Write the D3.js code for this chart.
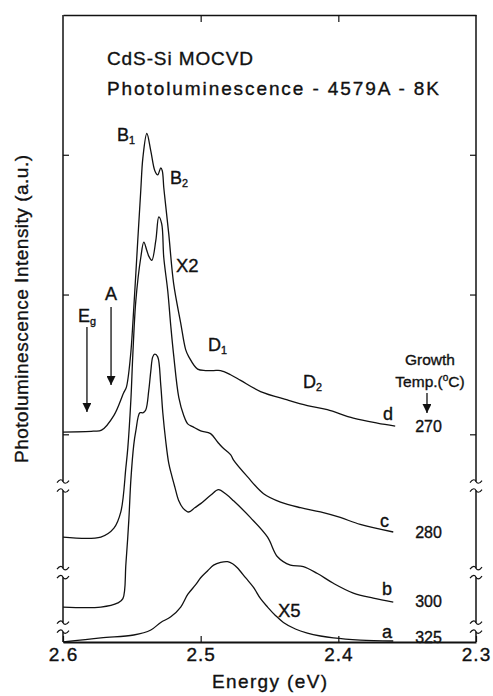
<!DOCTYPE html>
<html>
<head>
<meta charset="utf-8">
<script src="https://cdn.jsdelivr.net/npm/d3@7"></script>
<style>
  body { margin: 0; background: #fff; }
  text { font-family: "Liberation Sans", Arial, Helvetica, sans-serif; fill: #111; stroke: #111; stroke-width: 0.35px; }
</style>
</head>
<body>
<script>
// spectra: energy (eV) and intensity above each curve's own baseline (a.u.)
var energyD = [2.600, 2.578, 2.572, 2.563, 2.556, 2.554, 2.551, 2.549, 2.5457, 2.5435, 2.5420, 2.5391, 2.5362, 2.5333, 2.5312, 2.5290, 2.5279, 2.5268, 2.5254, 2.5232, 2.5196, 2.5145, 2.5109, 2.5087, 2.5022, 2.4964, 2.4906, 2.4855, 2.4783, 2.4710, 2.4565, 2.4370, 2.4225, 2.4080, 2.3891, 2.3717, 2.3587];
var curveD  = [0, 0.007, 0.014, 0.12, 0.28, 0.32, 0.54, 0.82, 1.37, 1.73, 1.96, 2.136, 2.01, 1.87, 1.84, 1.89, 1.87, 1.75, 1.62, 1.42, 1.06, 0.78, 0.59, 0.54, 0.45, 0.44, 0.44, 0.44, 0.41, 0.37, 0.29, 0.23, 0.19, 0.16, 0.10, 0.064, 0.043];

var energyC = [2.600, 2.5725, 2.5630, 2.5580, 2.5543, 2.5529, 2.5507, 2.5493, 2.5471, 2.5435, 2.5413, 2.5391, 2.5377, 2.5355, 2.5326, 2.5304, 2.5283, 2.5268, 2.5239, 2.5217, 2.5196, 2.5159, 2.5123, 2.5094, 2.5058, 2.5000, 2.4928, 2.4877, 2.4841, 2.4783, 2.4761, 2.4659, 2.4543, 2.4420, 2.4275, 2.4130, 2.3986, 2.3841, 2.3601];
var curveC  = [0, 0, 0.064, 0.18, 0.50, 0.64, 0.98, 1.30, 1.69, 2.00, 2.11, 2.05, 2.01, 1.98, 2.12, 2.29, 2.24, 2.00, 1.76, 1.51, 1.30, 1.00, 0.87, 0.81, 0.79, 0.76, 0.74, 0.68, 0.64, 0.59, 0.55, 0.43, 0.31, 0.25, 0.21, 0.18, 0.14, 0.09, 0.036];

var energyB = [2.600, 2.5725, 2.5601, 2.5565, 2.5543, 2.5522, 2.5507, 2.5486, 2.5471, 2.5442, 2.5420, 2.5399, 2.5377, 2.5362, 2.5348, 2.5333, 2.5312, 2.5290, 2.5275, 2.5254, 2.5232, 2.5210, 2.5188, 2.5159, 2.5130, 2.5087, 2.5043, 2.5000, 2.4928, 2.4870, 2.4819, 2.4761, 2.4638, 2.4514, 2.4442, 2.4348, 2.4254, 2.4152, 2.4036, 2.3891, 2.3746, 2.3601];
var curveB  = [0, 0, 0.03, 0.06, 0.31, 0.62, 0.91, 1.16, 1.26, 1.39, 1.39, 1.41, 1.55, 1.69, 1.79, 1.81, 1.79, 1.59, 1.39, 1.19, 1.03, 0.94, 0.86, 0.76, 0.71, 0.68, 0.71, 0.74, 0.80, 0.84, 0.81, 0.76, 0.64, 0.50, 0.36, 0.30, 0.29, 0.24, 0.17, 0.10, 0.064, 0.036];

var energyA = [2.600, 2.5725, 2.5486, 2.5362, 2.5290, 2.5217, 2.5145, 2.5094, 2.5036, 2.5000, 2.4949, 2.4906, 2.4855, 2.4804, 2.4768, 2.4732, 2.4674, 2.4616, 2.4565, 2.4514, 2.4457, 2.4399, 2.4312, 2.4225, 2.4130, 2.4036, 2.3841, 2.3601];
var curveA  = [0, 0.03, 0.05, 0.086, 0.14, 0.18, 0.25, 0.34, 0.41, 0.46, 0.51, 0.55, 0.57, 0.575, 0.56, 0.53, 0.46, 0.39, 0.31, 0.25, 0.19, 0.14, 0.093, 0.064, 0.043, 0.029, 0.014, 0.007];

var curveNames = ["d", "c", "b", "a"];
var growthTemps = ["270", "280", "300", "325"];
var baselines = [0.016, -0.735, -1.236, -1.486];   // vertical offset of each trace (a.u.)
var axisBreaks = [-0.37, -0.99, -1.38];

var xTicks = [2.6, 2.5, 2.4, 2.3];
var yTicks = [0, 1, 2];

var series = [
  {name: curveNames[0], temp: growthTemps[0], base: baselines[0], e: energyD, v: curveD},
  {name: curveNames[1], temp: growthTemps[1], base: baselines[1], e: energyC, v: curveC},
  {name: curveNames[2], temp: growthTemps[2], base: baselines[2], e: energyB, v: curveB},
  {name: curveNames[3], temp: growthTemps[3], base: baselines[3], e: energyA, v: curveA}
];

var W = 493, H = 696;
var margin = {left: 63, right: 476, top: 15, bottom: 642};

var svg = d3.select("body").append("svg")
    .attr("width", W)
    .attr("height", H);

var defs = svg.append("defs");
defs.append("marker")
    .attr("id", "head")
    .attr("viewBox", "0 0 10 10")
    .attr("refX", 10).attr("refY", 5)
    .attr("markerWidth", 9).attr("markerHeight", 9)
    .attr("markerUnits", "userSpaceOnUse")
    .attr("orient", "auto")
  .append("path")
    .attr("d", "M0,0 L10,5 L0,10 Z")
    .attr("fill", "#111");

var x = d3.scaleLinear().domain([2.6, 2.3]).range([margin.left, margin.right]);
var y = d3.scaleLinear().domain([-1.486, 3.0]).range([margin.bottom, margin.top]);

// bottom axis with labels, inward ticks
var xAxis = svg.append("g")
    .attr("transform", "translate(0," + margin.bottom + ")")
    .call(d3.axisBottom(x).tickValues(xTicks).tickSizeInner(-6).tickSizeOuter(0).tickPadding(6)
      .tickFormat(d3.format(".1f")));
xAxis.select(".domain").attr("stroke", "#111").attr("stroke-width", 1.8);
xAxis.selectAll(".tick line").attr("stroke", "#111").attr("stroke-width", 1.2);
xAxis.selectAll(".tick text")
    .attr("font-size", 19)
    .attr("font-family", "Liberation Sans, Arial, sans-serif")
    .attr("letter-spacing", 1)
    .attr("fill", "#111");

// top axis, ticks only
var xTop = svg.append("g")
    .attr("transform", "translate(0," + margin.top + ")")
    .call(d3.axisTop(x).tickValues(xTicks.slice(1, 3)).tickSizeInner(-7).tickSizeOuter(0).tickFormat(""));
xTop.select(".domain").attr("stroke", "#111").attr("stroke-width", 1.5);
xTop.selectAll(".tick line").attr("stroke", "#111").attr("stroke-width", 1.2);

// left and right axes: ticks only, domain drawn by hand so it can break
[[margin.left, d3.axisLeft(y)], [margin.right, d3.axisRight(y)]].forEach(function(a) {
  var g = svg.append("g")
      .attr("transform", "translate(" + a[0] + ",0)")
      .call(a[1].tickValues(yTicks).tickSizeInner(-6).tickSizeOuter(0).tickFormat(""));
  g.select(".domain").remove();
  g.selectAll(".tick line").attr("stroke", "#111").attr("stroke-width", 1.2);
});

var gap = 4.5;
var cuts = [margin.top];
axisBreaks.forEach(function(b) { cuts.push(y(b) - gap, y(b) + gap); });
cuts.push(margin.bottom);

[margin.left, margin.right].forEach(function(ax) {
  for (var i = 0; i < cuts.length; i += 2) {
    svg.append("line")
        .attr("x1", ax).attr("x2", ax)
        .attr("y1", cuts[i]).attr("y2", cuts[i + 1])
        .attr("stroke", "#111").attr("stroke-width", 1.5);
  }
  axisBreaks.forEach(function(b) {
    [-gap, gap].forEach(function(dy) {
      var cy = y(b) + dy;
      svg.append("path")
          .attr("d", "M" + (ax - 6) + "," + (cy + 1) +
                " C" + (ax - 3) + "," + (cy - 3) + " " + (ax - 1) + "," + (cy - 2) + " " + ax + "," + cy +
                " C" + (ax + 1) + "," + (cy + 2) + " " + (ax + 3) + "," + (cy + 3) + " " + (ax + 6) + "," + (cy - 1))
          .attr("fill", "none")
          .attr("stroke", "#111")
          .attr("stroke-width", 1.2);
    });
  });
});

// spectra
series.forEach(function(s) {
  var pts = s.e.map(function(e, i) { return [e, s.v[i] + s.base]; });
  var line = d3.line()
      .x(function(d) { return x(d[0]); })
      .y(function(d) { return y(d[1]); })
      .curve(d3.curveCatmullRom.alpha(0.5));
  svg.append("path")
      .datum(pts)
      .attr("fill", "none")
      .attr("stroke", "#111")
      .attr("stroke-width", 1.3)
      .attr("stroke-linejoin", "round")
      .attr("d", line);
});

// text helpers
function label(e, u, txt, size, anchor) {
  return svg.append("text")
      .attr("x", x(e)).attr("y", y(u))
      .attr("font-size", size)
      .attr("text-anchor", anchor || "start")
      .text(txt);
}
function subLabel(e, u, main, sub, size) {
  var t = svg.append("text")
      .attr("x", x(e)).attr("y", y(u))
      .attr("font-size", size);
  t.append("tspan").text(main);
  t.append("tspan").attr("font-size", size * 0.6).attr("dy", 3).text(sub);
  return t;
}
function arrow(e, u1, u2) {
  svg.append("line")
      .attr("x1", x(e)).attr("x2", x(e))
      .attr("y1", y(u1)).attr("y2", y(u2))
      .attr("stroke", "#111").attr("stroke-width", 1.3)
      .attr("marker-end", "url(#head)");
}

// titles
svg.append("text").attr("x", 107).attr("y", 65).attr("font-size", 19)
    .attr("textLength", 146).attr("lengthAdjust", "spacing").text("CdS-Si MOCVD");
svg.append("text").attr("x", 107).attr("y", 95).attr("font-size", 19)
    .attr("textLength", 332).attr("lengthAdjust", "spacing").text("Photoluminescence - 4579A - 8K");

// peak labels
subLabel(2.5608, 2.098, "B", "1", 18);
subLabel(2.5223, 1.791, "B", "2", 18);
label(2.5179, 1.161, "X2", 18.5);
label(2.5651, 0.961, "A", 18, "middle");
subLabel(2.5891, 0.803, "E", "g", 18);
subLabel(2.4947, 0.596, "D", "1", 18);
subLabel(2.4257, 0.331, "D", "2", 18);
label(2.4438, -1.307, "X5", 18.5);

arrow(2.5826, 0.768, 0.160);
arrow(2.5651, 0.911, 0.353);

// curve names and growth temperatures
var nameUnits = [0.102, -0.663, -1.150, -1.457];
var nameE = [2.3676, 2.3697, 2.3683, 2.3683];
var tempUnits = [0.016, -0.742, -1.236, -1.493];
series.forEach(function(s, i) {
  label(nameE[i], nameUnits[i], s.name, 18);
  label(2.3345, tempUnits[i], s.temp, 16, "middle");
});

label(2.3334, 0.496, "Growth", 15.5, "middle");
var tp = svg.append("text").attr("x", x(2.3334)).attr("y", y(0.338))
    .attr("font-size", 15.5).attr("text-anchor", "middle");
tp.append("tspan").text("Temp.(");
tp.append("tspan").attr("font-size", 10).attr("dy", -6).text("o");
tp.append("tspan").attr("dy", 6).text("C)");
arrow(2.3356, 0.296, 0.152);

// axis titles
svg.append("text")
    .attr("x", (margin.left + margin.right) / 2).attr("y", 688)
    .attr("font-size", 19).attr("text-anchor", "middle")
    .attr("textLength", 115).attr("lengthAdjust", "spacing")
    .text("Energy (eV)");
svg.append("text")
    .attr("transform", "translate(28,309) rotate(-90)")
    .attr("font-size", 19).attr("text-anchor", "middle")
    .attr("textLength", 308).attr("lengthAdjust", "spacing")
    .text("Photoluminescence Intensity (a.u.)");
</script>
</body>
</html>
